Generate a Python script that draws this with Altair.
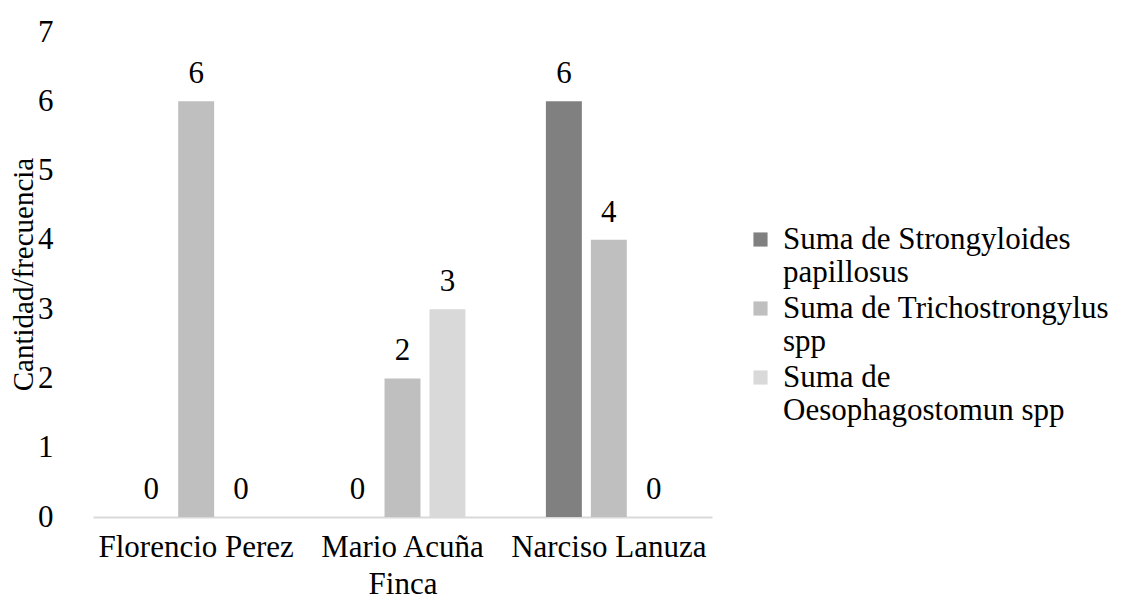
import altair as alt
import pandas as pd

fincas = ["Florencio Perez", "Mario Acuña", "Narciso Lanuza"]
series = ["Suma de Strongyloides papillosus", "Suma de  Trichostrongylus spp", "Suma de Oesophagostomun spp"]
legend_lines = ["Suma de Strongyloides|papillosus", "Suma de  Trichostrongylus|spp", "Suma de|Oesophagostomun spp"]
strongyloides = [0, 0, 6]
trichostrongylus = [6, 2, 4]
oesophagostomun = [0, 3, 0]
colors = ["#808080", "#bfbfbf", "#d9d9d9"]
y_ticks = [0, 1, 2, 3, 4, 5, 6, 7]

rows = []
for vals, s in zip([strongyloides, trichostrongylus, oesophagostomun], series):
    for f, v in zip(fincas, vals):
        rows.append({"Finca": f, "Serie": s, "Valor": v})
df = pd.DataFrame(rows)

FONT = "Liberation Serif"
FS = 31

label_map = "{" + ",".join(f"'{s}':'{l}'" for s, l in zip(series, legend_lines)) + "}"

x = alt.X("Finca:N", sort=fincas, title="Finca",
          scale=alt.Scale(paddingInner=0.39, paddingOuter=0.195),
          axis=alt.Axis(labelAngle=0, ticks=False, domainColor="#d9d9d9", domainWidth=2,
                        labelPadding=15, titlePadding=7, labelLimit=400))
xo = alt.XOffset("Serie:N", sort=series, scale=alt.Scale(paddingInner=0.2))
y = alt.Y("Valor:Q", title="Cantidad/frecuencia",
          scale=alt.Scale(domain=[0, 7], nice=False),
          axis=alt.Axis(values=y_ticks, grid=False, domain=False, ticks=False,
                        labelPadding=40, format="d",
                        titleX=-70, titleY=242, titleBaseline="middle", titleAlign="center",
                        titleAngle=270, titleFontSize=29))

base = alt.Chart(df)
bars = base.mark_bar().encode(
    x=x, xOffset=xo, y=y,
    color=alt.Color("Serie:N", sort=series, scale=alt.Scale(domain=series, range=colors),
                    legend=alt.Legend(title=None, orient="none", legendX=652, legendY=192,
                                      symbolType="square", symbolSize=200, symbolStrokeWidth=0,
                                      labelExpr=f"split({label_map}[datum.label], '|')",
                                      labelFont=FONT, labelFontSize=FS, labelLimit=400,
                                      rowPadding=4, symbolOffset=0, labelOffset=7)),
)
txt = base.mark_text(
    baseline="alphabetic", dy=-18, font=FONT, fontSize=FS, color="#000000"
).encode(x=x, xOffset=xo, y=y, text=alt.Text("Valor:Q"))

chart = alt.layer(bars, txt).properties(
    width=619, height=485,
    autosize=alt.AutoSizeParams(type="none"),
    padding={"left": 85, "top": 24, "right": 401, "bottom": 87},
).configure_view(stroke=None).configure_axis(
    labelFont=FONT, titleFont=FONT, labelFontSize=FS, titleFontSize=FS,
    labelColor="#000000", titleColor="#000000", titleFontWeight="normal"
)

chart.save("out.html", embed_options={"renderer": "svg", "actions": False})
